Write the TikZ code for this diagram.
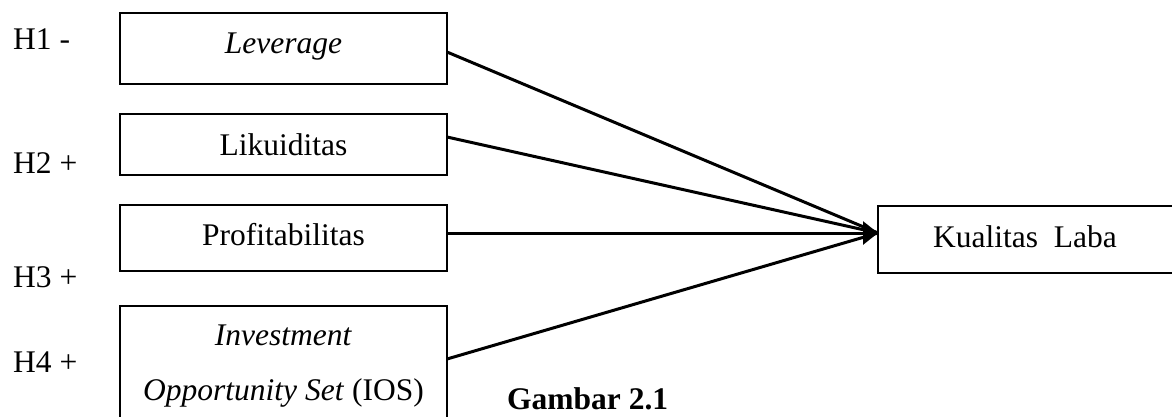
\documentclass[tikz,border=0pt]{standalone}
\usepackage{fontspec}
\setmainfont{Liberation Serif}
\usetikzlibrary{arrows.meta}
\begin{document}
\begin{tikzpicture}[x=1pt,y=-1pt,
  txt/.style={font=\fontsize{31.5}{38}\selectfont, inner sep=0pt, anchor=base},
  lbl/.style={font=\fontsize{31.5}{38}\selectfont, inner sep=0pt, anchor=base west},
  boxline/.style={draw, line width=2pt},
  conn/.style={line width=3pt, -{Triangle[length=15pt,width=23pt]}}]
\useasboundingbox (0,0) rectangle (1172,416);
% boxes
\draw[boxline] (120,13) rectangle (447,84);
\draw[boxline] (120,114) rectangle (447,175);
\draw[boxline] (120,205) rectangle (447,271);
\draw[boxline] (120,306) rectangle (447,430);
\draw[boxline] (878,206) rectangle (1180,273);
% texts
\node[txt] (lev) at (283.5,53) {\textit{Leverage}};
\node[txt] (lik) at (283.5,155) {Likuiditas};
\node[txt] (pro) at (283.5,245) {Profitabilitas};
\node[txt] (inv) at (283.5,345) {\textit{Investment}};
\node[txt] (ios) at (283.5,400) {\textit{Opportunity Set} (IOS)};
\node[txt] (kl) at (1025,247) {Kualitas\ \ Laba};
\node[lbl] (h1) at (13,49) {H1 -};
\node[lbl] (h2) at (13,173) {H2 +};
\node[lbl] (h3) at (13,287) {H3 +};
\node[lbl] (h4) at (13,372) {H4 +};
\node[lbl] (gam) at (507,409) {\textbf{Gambar 2.1}};
% connection points
\coordinate (levR) at (447,52);
\coordinate (likR) at (447,137);
\coordinate (proR) at (447,233);
\coordinate (iosR) at (447,359);
\coordinate (klL) at (878,233);
\draw[line width=3pt] (levR) -- (klL);
\draw[line width=3pt] (likR) -- (klL);
\draw[line width=3pt] (iosR) -- (klL);
\draw[conn] (proR) -- (klL);
\end{tikzpicture}
\end{document}
